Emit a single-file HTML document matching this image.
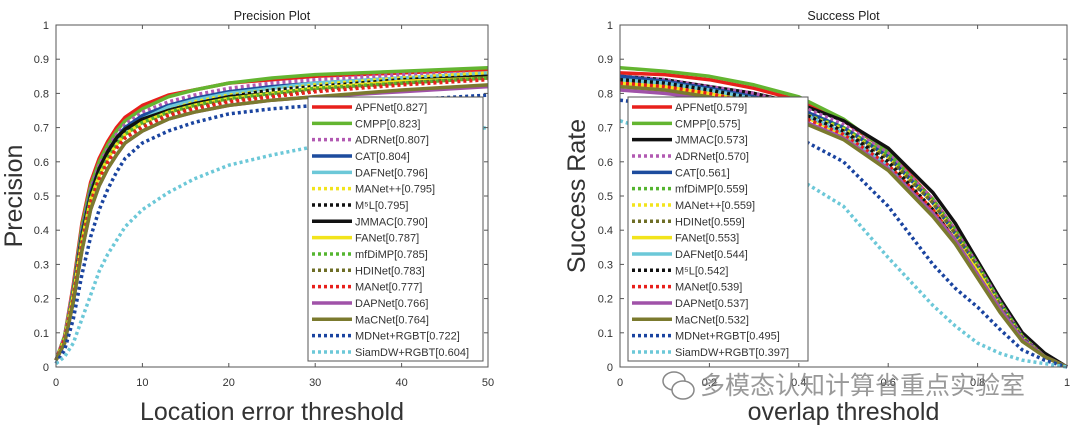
<!DOCTYPE html>
<html><head><meta charset="utf-8">
<style>
html,body{margin:0;padding:0;background:#fff;}
svg{display:block;font-family:"Liberation Sans","Noto Sans CJK SC",sans-serif;}
</style></head>
<body>
<svg id="chart" width="1080" height="435" viewBox="0 0 1080 435" xmlns="http://www.w3.org/2000/svg"></svg>
<script>
// ---------- Precision plot data ----------
const precX = [0,1,2,3,4,5,6,7,8,10,13,16,20,25,30,40,50];
const precNames = ["APFNet[0.827]","CMPP[0.823]","ADRNet[0.807]","CAT[0.804]","DAFNet[0.796]","MANet++[0.795]","M\u2075L[0.795]","JMMAC[0.790]","FANet[0.787]","mfDiMP[0.785]","HDINet[0.783]","MANet[0.777]","DAPNet[0.766]","MaCNet[0.764]","MDNet+RGBT[0.722]","SiamDW+RGBT[0.604]"];
const precStyles = ["red","green","magentaDot","blue","cyan","yellowDot","blackDot","black","yellow","greenDot","oliveDot","redDot","purple","olive","blueDot","cyanDot"];
const pAPFNet=[.02,.09,.24,.42,.54,.61,.66,.70,.73,.765,.795,.81,.83,.84,.85,.86,.87];
const pCMPP=[.02,.09,.23,.41,.53,.60,.65,.69,.72,.755,.79,.81,.83,.845,.855,.865,.875];
const pADRNet=[.02,.09,.23,.40,.52,.59,.64,.68,.71,.745,.775,.795,.815,.83,.84,.855,.86];
const pCAT=[.02,.08,.22,.39,.51,.58,.63,.67,.70,.735,.765,.785,.805,.82,.83,.845,.855];
const pDAFNet=[.02,.08,.21,.38,.50,.57,.62,.66,.69,.725,.76,.78,.80,.815,.83,.845,.86];
const pMANetPP=[.02,.08,.21,.38,.50,.57,.62,.66,.69,.72,.75,.775,.795,.81,.825,.845,.86];
const pM5L=[.02,.08,.21,.38,.50,.57,.62,.66,.69,.72,.75,.77,.79,.81,.82,.84,.85];
const pJMMAC=[.02,.08,.21,.38,.50,.58,.63,.67,.695,.725,.75,.77,.79,.80,.815,.835,.85];
const pFANet=[.02,.08,.21,.37,.49,.56,.61,.65,.68,.715,.745,.765,.785,.80,.815,.835,.845];
const pmfDiMP=[.02,.08,.20,.37,.49,.56,.61,.65,.68,.715,.745,.765,.785,.80,.815,.83,.845];
const pHDINet=[.02,.08,.20,.36,.48,.55,.60,.64,.67,.705,.74,.76,.78,.795,.81,.83,.845];
const pMANet=[.02,.08,.20,.36,.48,.55,.60,.64,.67,.70,.735,.755,.775,.79,.805,.825,.84];
const pDAPNet=[.02,.07,.19,.34,.46,.53,.58,.62,.655,.69,.725,.745,.765,.78,.79,.805,.82];
const pMaCNet=[.02,.07,.19,.34,.46,.53,.58,.62,.655,.69,.725,.745,.765,.78,.79,.81,.825];
const pMDNet=[.01,.05,.14,.27,.38,.46,.52,.57,.61,.655,.69,.715,.74,.755,.765,.78,.795];
const pSiamDW=[.01,.03,.07,.14,.21,.28,.33,.37,.41,.46,.51,.55,.59,.62,.645,.675,.70];
const precSeries=[pAPFNet,pCMPP,pADRNet,pCAT,pDAFNet,pMANetPP,pM5L,pJMMAC,pFANet,pmfDiMP,pHDINet,pMANet,pDAPNet,pMaCNet,pMDNet,pSiamDW];
const precXTicks=[0,10,20,30,40,50];
const yTicks=[0,0.1,0.2,0.3,0.4,0.5,0.6,0.7,0.8,0.9,1];
const yTickLabels=["0","0.1","0.2","0.3","0.4","0.5","0.6","0.7","0.8","0.9","1"];

// ---------- Success plot data ----------
const succX=[0,.1,.2,.3,.4,.5,.6,.7,.75,.8,.85,.9,.95,1];
const succNames=["APFNet[0.579]","CMPP[0.575]","JMMAC[0.573]","ADRNet[0.570]","CAT[0.561]","mfDiMP[0.559]","MANet++[0.559]","HDINet[0.559]","FANet[0.553]","DAFNet[0.544]","M\u2075L[0.542]","MANet[0.539]","DAPNet[0.537]","MaCNet[0.532]","MDNet+RGBT[0.495]","SiamDW+RGBT[0.397]"];
const succStyles=["red","green","black","magentaDot","blue","greenDot","yellowDot","oliveDot","yellow","cyan","blackDot","redDot","purple","olive","blueDot","cyanDot"];
const sAPFNet=[.86,.855,.84,.815,.78,.72,.63,.49,.40,.30,.19,.09,.03,0];
const sCMPP=[.875,.865,.85,.825,.79,.725,.63,.48,.39,.29,.18,.085,.03,0];
const sJMMAC=[.85,.84,.82,.80,.77,.72,.64,.51,.42,.31,.20,.10,.04,0];
const sADRNet=[.85,.84,.82,.80,.765,.71,.625,.49,.40,.30,.19,.09,.03,0];
const sCAT=[.85,.835,.815,.79,.755,.70,.615,.48,.39,.29,.18,.085,.03,0];
const smfDiMP=[.83,.82,.80,.775,.745,.70,.62,.49,.40,.30,.19,.09,.03,0];
const sMANetPP=[.84,.825,.805,.78,.745,.695,.61,.48,.39,.29,.18,.085,.03,0];
const sHDINet=[.83,.82,.80,.775,.74,.69,.61,.48,.39,.29,.18,.085,.03,0];
const sFANet=[.83,.82,.80,.775,.74,.68,.59,.46,.37,.28,.17,.08,.03,0];
const sDAFNet=[.84,.83,.81,.785,.745,.685,.59,.45,.36,.27,.17,.08,.03,0];
const sM5L=[.84,.83,.81,.785,.745,.69,.60,.46,.37,.27,.17,.08,.03,0];
const sMANet=[.83,.82,.80,.77,.735,.68,.59,.46,.37,.27,.17,.08,.03,0];
const sDAPNet=[.81,.80,.785,.76,.725,.67,.58,.45,.37,.27,.17,.08,.03,0];
const sMaCNet=[.82,.81,.79,.76,.72,.665,.575,.44,.36,.26,.16,.075,.03,0];
const sMDNet=[.78,.765,.74,.71,.67,.60,.47,.30,.23,.175,.11,.05,.02,0];
const sSiamDW=[.72,.68,.63,.58,.55,.47,.32,.18,.12,.07,.04,.02,.01,0];
const succSeries=[sAPFNet,sCMPP,sJMMAC,sADRNet,sCAT,smfDiMP,sMANetPP,sHDINet,sFANet,sDAFNet,sM5L,sMANet,sDAPNet,sMaCNet,sMDNet,sSiamDW];
const succXTicks=[0,0.2,0.4,0.6,0.8,1];
const succXTickLabels=["0","0.2","0.4","0.6","0.8","1"];

const STY={
 red:["#e8201c",false],green:["#63b530",false],magentaDot:["#b25ab2",true],blue:["#1d4c9e",false],
 cyan:["#6cc8d8",false],yellowDot:["#f2e41c",true],blackDot:["#111",true],black:["#111",false],
 yellow:["#f2e41c",false],greenDot:["#55b530",true],oliveDot:["#6e6e26",true],redDot:["#e8201c",true],
 purple:["#a052a8",false],olive:["#7b7a2e",false],blueDot:["#1a44a0",true],cyanDot:["#6cc8d8",true]
};
const NS="http://www.w3.org/2000/svg";
const svg=document.getElementById('chart');
function mk(tag,attrs,parent){const e=document.createElementNS(NS,tag);for(const k in attrs)e.setAttribute(k,attrs[k]);(parent||svg).appendChild(e);return e;}

function drawPlot(o){
 const g=mk('g',{});
 
 
 const sx=v=>o.x0+(v-o.xmin)/(o.xmax-o.xmin)*(o.x1-o.x0);
 const sy=v=>o.y0-(v)*(o.y0-o.y1);
 const t=mk('text',{x:(o.x0+o.x1)/2,y:20,'text-anchor':'middle','font-size':'12.5',fill:'#222'},g);
 t.textContent=o.title;
 
 
 const sg=mk('g',{fill:'none','stroke-linejoin':'round'},g);
 o.series.forEach((arr,i)=>{
  const st=STY[o.styles[i]];
  const d=arr.map((v,j)=>(j?'L':'M')+sx(o.xs[j]).toFixed(1)+' '+sy(v).toFixed(1)).join(' ');
  const p=mk('path',{d:d,stroke:st[0],'stroke-width':3.5},sg);
  if(st[1])p.setAttribute('stroke-dasharray','3 3');
  
  
 });
 const box=mk('rect',{x:o.x0,y:o.y1,width:o.x1-o.x0,height:o.y0-o.y1,fill:'none',stroke:'#555','stroke-width':1},g);
 
 
 yTicks.forEach((v,i)=>{
  const y=sy(v);
  mk('line',{x1:o.x0,x2:o.x0+4,y1:y,y2:y,stroke:'#555'},g);
  mk('line',{x1:o.x1,x2:o.x1-4,y1:y,y2:y,stroke:'#555'},g);
  const tx=mk('text',{x:o.x0-7,y:y+4,'text-anchor':'end','font-size':'11',fill:'#333'},g);
  tx.textContent=yTickLabels[i];
  
  
 });
 o.xticks.forEach((v,i)=>{
  const x=sx(v);
  mk('line',{x1:x,x2:x,y1:o.y0,y2:o.y0-4,stroke:'#555'},g);
  mk('line',{x1:x,x2:x,y1:o.y1,y2:o.y1+4,stroke:'#555'},g);
  const tx=mk('text',{x:x,y:o.y0+19,'text-anchor':'middle','font-size':'11',fill:'#333'},g);
  tx.textContent=o.xlabels[i];
  
  
 });
 const xt=mk('text',{x:(o.x0+o.x1)/2,y:420,'text-anchor':'middle','font-size':'25',fill:'#333'},g);
 xt.textContent=o.xtitle;
 
 
 const yt=mk('text',{x:0,y:0,'text-anchor':'middle','font-size':'25',fill:'#333',transform:`translate(${o.ytx},${(o.y0+o.y1)/2}) rotate(-90)`},g);
 yt.textContent=o.ytitle;
 
 
 const lg=mk('g',{},g);
 
 
 mk('rect',{x:o.lx,y:97,width:o.lw,height:264,fill:'#fff',stroke:'#555','stroke-width':1},lg);
 o.names.forEach((n,i)=>{
  const y=107+i*16.33;
  const st=STY[o.styles[i]];
  const ln=mk('line',{x1:o.lx+4,x2:o.lx+44,y1:y,y2:y,stroke:st[0],'stroke-width':3.5},lg);
  if(st[1])ln.setAttribute('stroke-dasharray','3 3');
  const tx=mk('text',{x:o.lx+47,y:y+4,'font-size':'11',fill:'#333'},lg);
  tx.textContent=n;
  
  
 });
}
drawPlot({id:'precision-plot',title:'Precision Plot',x0:56,x1:488,y0:367,y1:25,xmin:0,xmax:50,xs:precX,series:precSeries,styles:precStyles,names:precNames,xticks:precXTicks,xlabels:precXTicks.map(String),xtitle:'Location error threshold',ytitle:'Precision',ytx:22,lx:308,lw:175});
drawPlot({id:'success-plot',title:'Success Plot',x0:620,x1:1067,y0:367,y1:25,xmin:0,xmax:1,xs:succX,series:succSeries,styles:succStyles,names:succNames,xticks:succXTicks,xlabels:succXTickLabels,xtitle:'overlap threshold',ytitle:'Success Rate',ytx:585,lx:628,lw:180});
const wm=mk('text',{x:700,y:394,'font-size':'25',fill:'#777','fill-opacity':'0.75','font-family':'"Noto Sans CJK SC",sans-serif'});
wm.textContent='多模态认知计算省重点实验室';


const ic=mk('g',{fill:'none',stroke:'#888','stroke-width':1.5});


mk('ellipse',{cx:674,cy:381,rx:11,ry:9},ic);
mk('ellipse',{cx:683,cy:390,rx:11,ry:9,fill:'#fff'},ic);
</script>
</body></html>
